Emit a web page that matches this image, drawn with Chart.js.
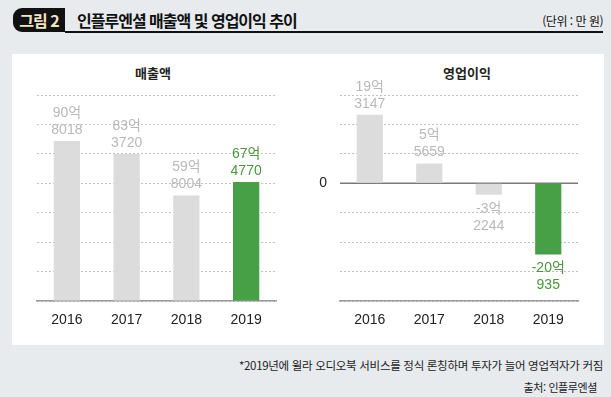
<!DOCTYPE html>
<html lang="ko">
<head>
<meta charset="utf-8">
<script src="https://cdn.jsdelivr.net/npm/chart.js@4/dist/chart.umd.min.js"></script>
<style>
  html, body { margin: 0; padding: 0; }
  body {
    width: 611px; height: 397px; position: relative; overflow: hidden;
    background: #e7ebee;
    font-family: "Noto Sans CJK KR", sans-serif;
  }
  .badge {
    position: absolute; left: 13px; top: 8px; width: 52px; height: 24px;
    background: #111; border-radius: 9px 0 0 9px;
    color: #f4e4c4; font-weight: bold; font-size: 16px; line-height: 24px;
    text-align: center; letter-spacing: -1px;
  }
  .rule { position: absolute; left: 65px; top: 31px; width: 538px; height: 1.5px; background: #111; }
  .title {
    position: absolute; left: 77px; top: 8px; font-size: 16px; font-weight: bold;
    line-height: 24px; letter-spacing: -1px; color: #111;
  }
  .unit { position: absolute; right: 8px; top: 10px; font-size: 12px; line-height: 22px; color: #111; letter-spacing: -0.5px; }
  .panel { position: absolute; left: 12px; top: 54px; width: 592px; height: 291px; background: #fff; }
  .ptitle {
    position: absolute; top: 64px; font-size: 13px; font-weight: bold; line-height: 18px;
    color: #222; transform: translateX(-50%); white-space: nowrap;
  }
  .box { position: absolute; top: 80px; height: 265px; }
  .note { position: absolute; right: 8px; font-size: 11.5px; line-height: 18px; color: #222; letter-spacing: -0.3px; white-space: nowrap; }
</style>
</head>
<body>
  <div class="badge">그림 2</div>
  <div class="title">인플루엔셜 매출액 및 영업이익 추이</div>
  <div class="unit">(단위 : 만 원)</div>
  <div class="rule"></div>

  <div class="panel"></div>
  <div class="ptitle" style="left:153px">매출액</div>
  <div class="ptitle" style="left:467px">영업이익</div>
  <div class="box" style="left:12px; width:294px"><canvas id="sales"></canvas></div>
  <div class="box" style="left:306px; width:298px"><canvas id="profit"></canvas></div>

  <div class="note" style="top:356px">*2019년에 윌라 오디오북 서비스를 정식 론칭하며 투자가 늘어 영업적자가 커짐</div>
  <div class="note" style="top:378px; right:14px; font-size:11px; letter-spacing:-0.4px">출처: 인플루엔셜</div>

<script>
// 단위: 만 원
const years = ["2016", "2017", "2018", "2019"];
const sales = [908018, 833720, 598004, 674770];    // 매출액
const profit = [193147, 55659, -32244, -200935];   // 영업이익
const salesTicks = [0, 167000, 334000, 501000, 668000, 835000, 1002000, 1169000];
const profitTicks = [-332000, -249000, -166000, -83000, 0, 83000, 166000, 249000];
const highlight = 3; // 2019년 강조

Chart.defaults.font.family = '"Liberation Sans", "Noto Sans CJK KR", sans-serif';
Chart.defaults.font.size = 14;

// 만 원 -> "90억", "8018"
function toEok(v) {
  const a = Math.abs(v);
  return [(v < 0 ? "-" : "") + Math.floor(a / 10000) + "억", String(a % 10000)];
}

const valueLabels = {
  id: "valueLabels",
  afterDatasetsDraw(chart) {
    const ctx = chart.ctx;
    const values = chart.data.datasets[0].data;
    ctx.save();
    ctx.font = '14px "Liberation Sans", "Noto Sans CJK KR", sans-serif';
    ctx.textAlign = "center";
    ctx.textBaseline = "middle";
    chart.getDatasetMeta(0).data.forEach((bar, i) => {
      const lines = toEok(values[i]);
      ctx.fillStyle = i === highlight ? "#4a983c" : "#b9b9b9";
      if (values[i] >= 0) {
        ctx.fillText(lines[0], bar.x, bar.y - 28);
        ctx.fillText(lines[1], bar.x, bar.y - 11);
      } else {
        ctx.fillText(lines[0], bar.x, bar.y + 14);
        ctx.fillText(lines[1], bar.x, bar.y + 31);
      }
    });
    ctx.restore();
  }
};

// 0 기준선과 "0" 표기
const zeroLine = {
  id: "zeroLine",
  beforeDatasetsDraw(chart) {
    const y = chart.scales.y.getPixelForValue(0);
    const { left, right } = chart.chartArea;
    const ctx = chart.ctx;
    ctx.save();
    ctx.strokeStyle = "#7a7a7a";
    ctx.lineWidth = 1.5;
    ctx.beginPath();
    ctx.moveTo(left, y);
    ctx.lineTo(right, y);
    ctx.stroke();
    ctx.fillStyle = "#222";
    ctx.font = '14px "Liberation Sans", sans-serif';
    ctx.textAlign = "right";
    ctx.textBaseline = "middle";
    ctx.fillText("0", left - 13, y);
    ctx.restore();
  }
};

function makeChart(id, values, ticks, yWidth, padRight, withZero) {
  return new Chart(document.getElementById(id), {
    type: "bar",
    data: {
      labels: years,
      datasets: [{
        data: values,
        backgroundColor: (c) => (c.dataIndex === highlight ? "#47a046" : "#dcdcdc"),
        borderWidth: 0,
        barPercentage: 0.44,
        categoryPercentage: 1.0
      }]
    },
    options: {
      responsive: true,
      maintainAspectRatio: false,
      animation: false,
      layout: { padding: { top: 15, right: padRight, left: 0, bottom: 0 } },
      plugins: { legend: { display: false }, tooltip: { enabled: false } },
      scales: {
        x: {
          grid: { display: false, drawTicks: false },
          border: { display: true, color: "#9a9a9a", width: 1.5 },
          ticks: { color: "#222", padding: 11, font: { size: 14 } },
          afterFit(s) { s.height = 44; }
        },
        y: {
          min: ticks[0],
          max: ticks[ticks.length - 1],
          afterBuildTicks(s) { s.ticks = ticks.map((v) => ({ value: v })); },
          grid: { color: "#c2c2c2", lineWidth: 1, drawTicks: false },
          border: { display: false, dash: [2, 2] },
          ticks: { display: false },
          afterFit(s) { s.width = yWidth; }
        }
      }
    },
    plugins: withZero ? [zeroLine, valueLabels] : [valueLabels]
  });
}

makeChart("sales", sales, salesTicks, 25, 30, false);
makeChart("profit", profit, profitTicks, 34, 26, true);
</script>
</body>
</html>
